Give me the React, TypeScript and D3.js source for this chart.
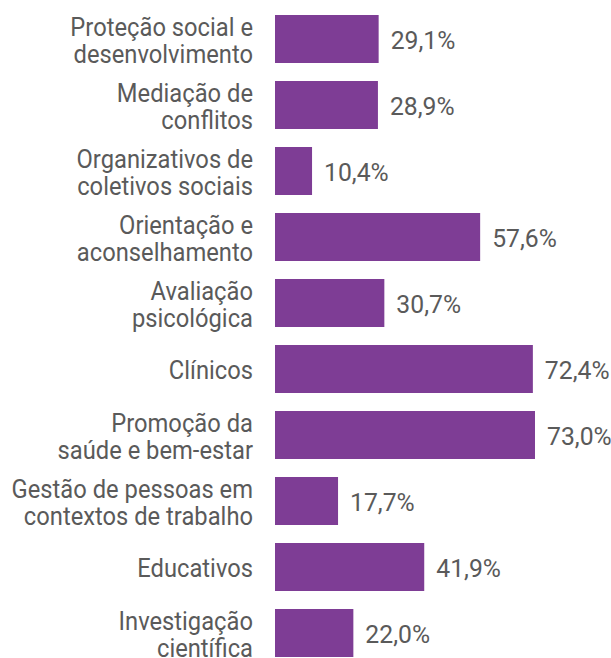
import React from 'react';
import * as d3 from 'd3';

// categories, each split into the lines shown in the chart
const categories: string[][] = [
  ['Proteção social e', 'desenvolvimento'],
  ['Mediação de', 'conflitos'],
  ['Organizativos de', 'coletivos sociais'],
  ['Orientação e', 'aconselhamento'],
  ['Avaliação', 'psicológica'],
  ['Clínicos'],
  ['Promoção da', 'saúde e bem-estar'],
  ['Gestão de pessoas em', 'contextos de trabalho'],
  ['Educativos'],
  ['Investigação', 'científica'],
];
const values: number[] = [29.1, 28.9, 10.4, 57.6, 30.7, 72.4, 73.0, 17.7, 41.9, 22.0];

const W = 611;
const H = 658;
const barColor = '#7e3d95';
const textColor = '#5a5a5a';

const fmt = (v: number) => v.toFixed(1).replace('.', ',') + '%';

const App = () => {
  const ids = categories.map((_, i) => String(i));
  const y = d3.scaleBand<string>().domain(ids).range([15, 657]).paddingInner(18 / 66).paddingOuter(0);
  const x = d3.scaleLinear().domain([0, 73]).range([275, 535]);

  return (
    <svg width={W} height={H} style={{ position: 'absolute', left: 0, top: 0, fontFamily: 'Roboto, sans-serif' }}>
      <rect width={W} height={H} fill="#fff" />
      {values.map((v, i) => {
        const y0 = y(String(i)) as number;
        const bh = y.bandwidth();
        const cy = y0 + bh / 2;
        const lines = categories[i];
        return (
          <g key={i}>
            <rect x={x(0)} y={y0} width={x(v) - x(0)} height={bh} fill={barColor} />
            {lines.map((ln, j) => (
              <text
                key={j}
                transform={`translate(253,${cy + (j - (lines.length - 1) / 2) * 26.5 + 10.3}) scale(0.95,1)`}
                textAnchor="end"
                fontSize={25}
                fill={textColor}
              >
                {ln}
              </text>
            ))}
            <text
              transform={`translate(${x(v) + 12},${cy + 9.5}) scale(0.97,1)`}
              fontSize={25.5}
              fill={textColor}
            >
              {fmt(v)}
            </text>
          </g>
        );
      })}
    </svg>
  );
};

export default App;
